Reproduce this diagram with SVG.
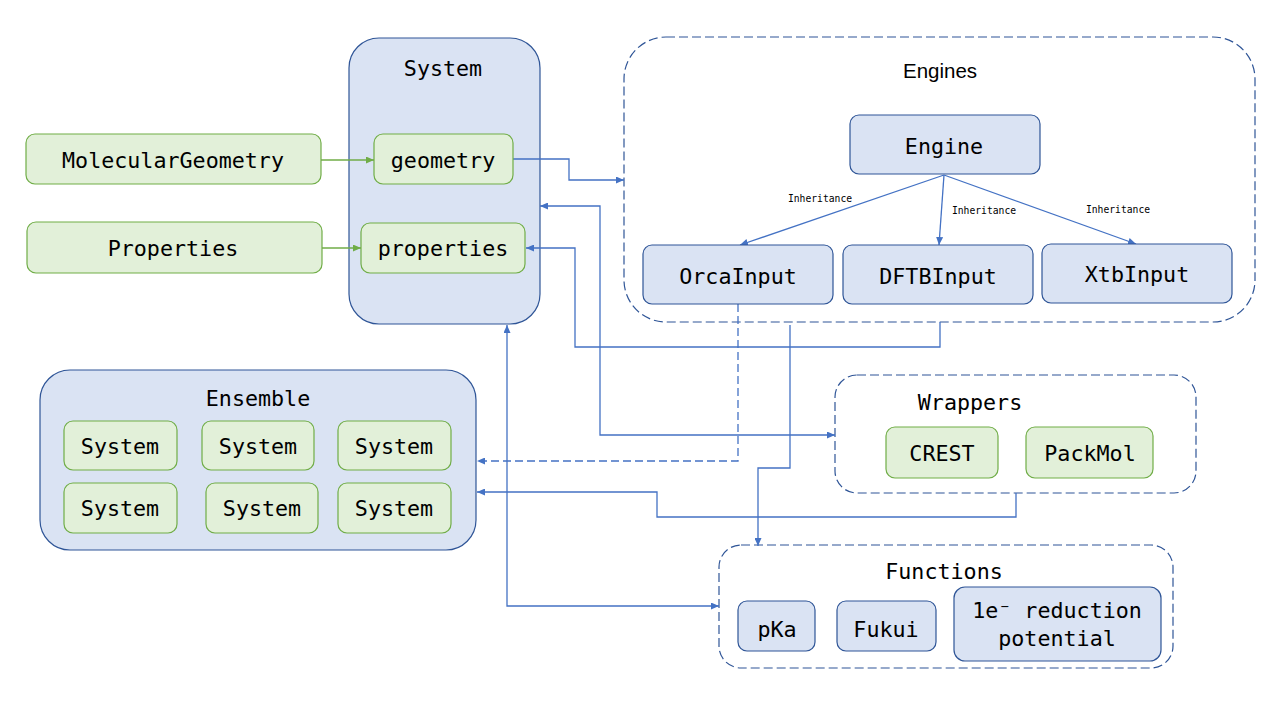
<svg xmlns="http://www.w3.org/2000/svg" width="1280" height="720" viewBox="0 0 1280 720">
<style>
.bg{fill:#ffffff}
.cont{fill:#dae3f3;stroke:#2f5597;stroke-width:1.2}
.dash{fill:none;stroke:#2f5597;stroke-width:1.2;stroke-dasharray:9 4}
.blue{fill:#dae3f3;stroke:#2f5597;stroke-width:1.2}
.green{fill:#e2f0d9;stroke:#70ad47;stroke-width:1.2}
.t{font-family:"DejaVu Sans Mono","Liberation Mono",monospace;font-size:21.7px;fill:#000;text-anchor:middle;dominant-baseline:central}
.ts{font-family:"Liberation Sans","Noto Sans",sans-serif;font-size:20.5px;fill:#000;text-anchor:middle;dominant-baseline:central}
.lab{font-family:"DejaVu Sans Mono","Liberation Mono",monospace;font-size:9.7px;fill:#000;text-anchor:middle;dominant-baseline:central}
.c{fill:none;stroke:#4472c4;stroke-width:1.3}
.cg{fill:none;stroke:#70ad47;stroke-width:1.3}
</style>
<defs>
<marker id="ab" viewBox="0 0 8 7" refX="8" refY="3.5" markerWidth="8" markerHeight="7" markerUnits="userSpaceOnUse" orient="auto-start-reverse"><path d="M0,0 L8,3.5 L0,7 z" fill="#4472c4"/></marker>
<marker id="ag" viewBox="0 0 8 7" refX="8" refY="3.5" markerWidth="8" markerHeight="7" markerUnits="userSpaceOnUse" orient="auto"><path d="M0,0 L8,3.5 L0,7 z" fill="#70ad47"/></marker>
</defs>
<rect class="bg" x="0" y="0" width="1280" height="720"/>

<g id="system">
<rect class="cont" x="349" y="38" width="191" height="286" rx="30"/>
<text class="t" x="443" y="68">System</text>
</g>
<g id="engines">
<rect class="dash" x="624" y="37" width="631" height="285" rx="42"/>
<text class="ts" x="940" y="70">Engines</text>
</g>
<g id="ensemble">
<rect class="cont" x="40" y="370" width="436" height="180" rx="30"/>
<text class="t" x="258" y="398">Ensemble</text>
</g>
<g id="wrappers">
<rect class="dash" x="835" y="375" width="361" height="118" rx="22"/>
<text class="t" x="970" y="402">Wrappers</text>
</g>
<g id="functions">
<rect class="dash" x="719" y="545" width="454" height="123" rx="22"/>
<text class="t" x="944" y="571">Functions</text>
</g>

<g id="connectors">
<path class="cg" d="M321,160 H374" marker-end="url(#ag)"/>
<path class="cg" d="M322,248 H361" marker-end="url(#ag)"/>
<path class="c" d="M513,159 H569 V180 H624" marker-end="url(#ab)"/>
<path class="c" d="M944,175 L740,245" marker-end="url(#ab)"/>
<path class="c" d="M944,175 L939,245" marker-end="url(#ab)"/>
<path class="c" d="M944,175 L1136,244" marker-end="url(#ab)"/>
<path class="c" d="M540,206 H600 V435 H835" marker-start="url(#ab)" marker-end="url(#ab)"/>
<path class="c" d="M940,322 V347 H575 V248 H526" marker-end="url(#ab)"/>
<path class="c" d="M738,304 V461 H477" stroke-dasharray="8 4" marker-end="url(#ab)"/>
<path class="c" d="M790,325 V468 H758 V546" marker-end="url(#ab)"/>
<path class="c" d="M1016,493 V517 H657 V492 H477" marker-end="url(#ab)"/>
<path class="c" d="M507,325 V606 H719" marker-start="url(#ab)" marker-end="url(#ab)"/>
<text class="lab" x="820" y="198">Inheritance</text>
<text class="lab" x="984" y="210">Inheritance</text>
<text class="lab" x="1118" y="209">Inheritance</text>
</g>

<g id="molgeom"><rect class="green" x="26" y="134" width="295" height="50" rx="9"/><text class="t" x="173" y="160">MolecularGeometry</text></g>
<g id="props"><rect class="green" x="27" y="222" width="295" height="51" rx="9"/><text class="t" x="173" y="248">Properties</text></g>
<g id="geometry"><rect class="green" x="374" y="134" width="139" height="50" rx="9"/><text class="t" x="443" y="160">geometry</text></g>
<g id="properties"><rect class="green" x="361" y="223" width="164" height="50" rx="9"/><text class="t" x="443" y="248">properties</text></g>

<g id="engine"><rect class="blue" x="850" y="115" width="190" height="59" rx="9"/><text class="t" x="944" y="146">Engine</text></g>
<g id="orca"><rect class="blue" x="643" y="245" width="190" height="59" rx="9"/><text class="t" x="738" y="276">OrcaInput</text></g>
<g id="dftb"><rect class="blue" x="843" y="245" width="190" height="59" rx="9"/><text class="t" x="938" y="276">DFTBInput</text></g>
<g id="xtb"><rect class="blue" x="1042" y="244" width="190" height="59" rx="9"/><text class="t" x="1137" y="274">XtbInput</text></g>

<g id="ens-s1"><rect class="green" x="64" y="421" width="113" height="49" rx="9"/><text class="t" x="120" y="446">System</text></g>
<g id="ens-s2"><rect class="green" x="202" y="421" width="112" height="49" rx="9"/><text class="t" x="258" y="446">System</text></g>
<g id="ens-s3"><rect class="green" x="338" y="421" width="113" height="49" rx="9"/><text class="t" x="394" y="446">System</text></g>
<g id="ens-s4"><rect class="green" x="64" y="483" width="113" height="50" rx="9"/><text class="t" x="120" y="508">System</text></g>
<g id="ens-s5"><rect class="green" x="206" y="483" width="112" height="50" rx="9"/><text class="t" x="262" y="508">System</text></g>
<g id="ens-s6"><rect class="green" x="338" y="483" width="113" height="50" rx="9"/><text class="t" x="394" y="508">System</text></g>

<g id="crest"><rect class="green" x="886" y="427" width="112" height="51" rx="9"/><text class="t" x="942" y="453">CREST</text></g>
<g id="packmol"><rect class="green" x="1026" y="427" width="127" height="51" rx="9"/><text class="t" x="1090" y="453">PackMol</text></g>

<g id="pka"><rect class="blue" x="738" y="601" width="77" height="50" rx="9"/><text class="t" x="777" y="629">pKa</text></g>
<g id="fukui"><rect class="blue" x="837" y="601" width="99" height="50" rx="9"/><text class="t" x="886" y="629">Fukui</text></g>
<g id="redox"><rect class="blue" x="954" y="587" width="207" height="74" rx="11"/><text class="t" x="1057" y="610">1e⁻ reduction</text><text class="t" x="1057" y="638">potential</text></g>
</svg>
